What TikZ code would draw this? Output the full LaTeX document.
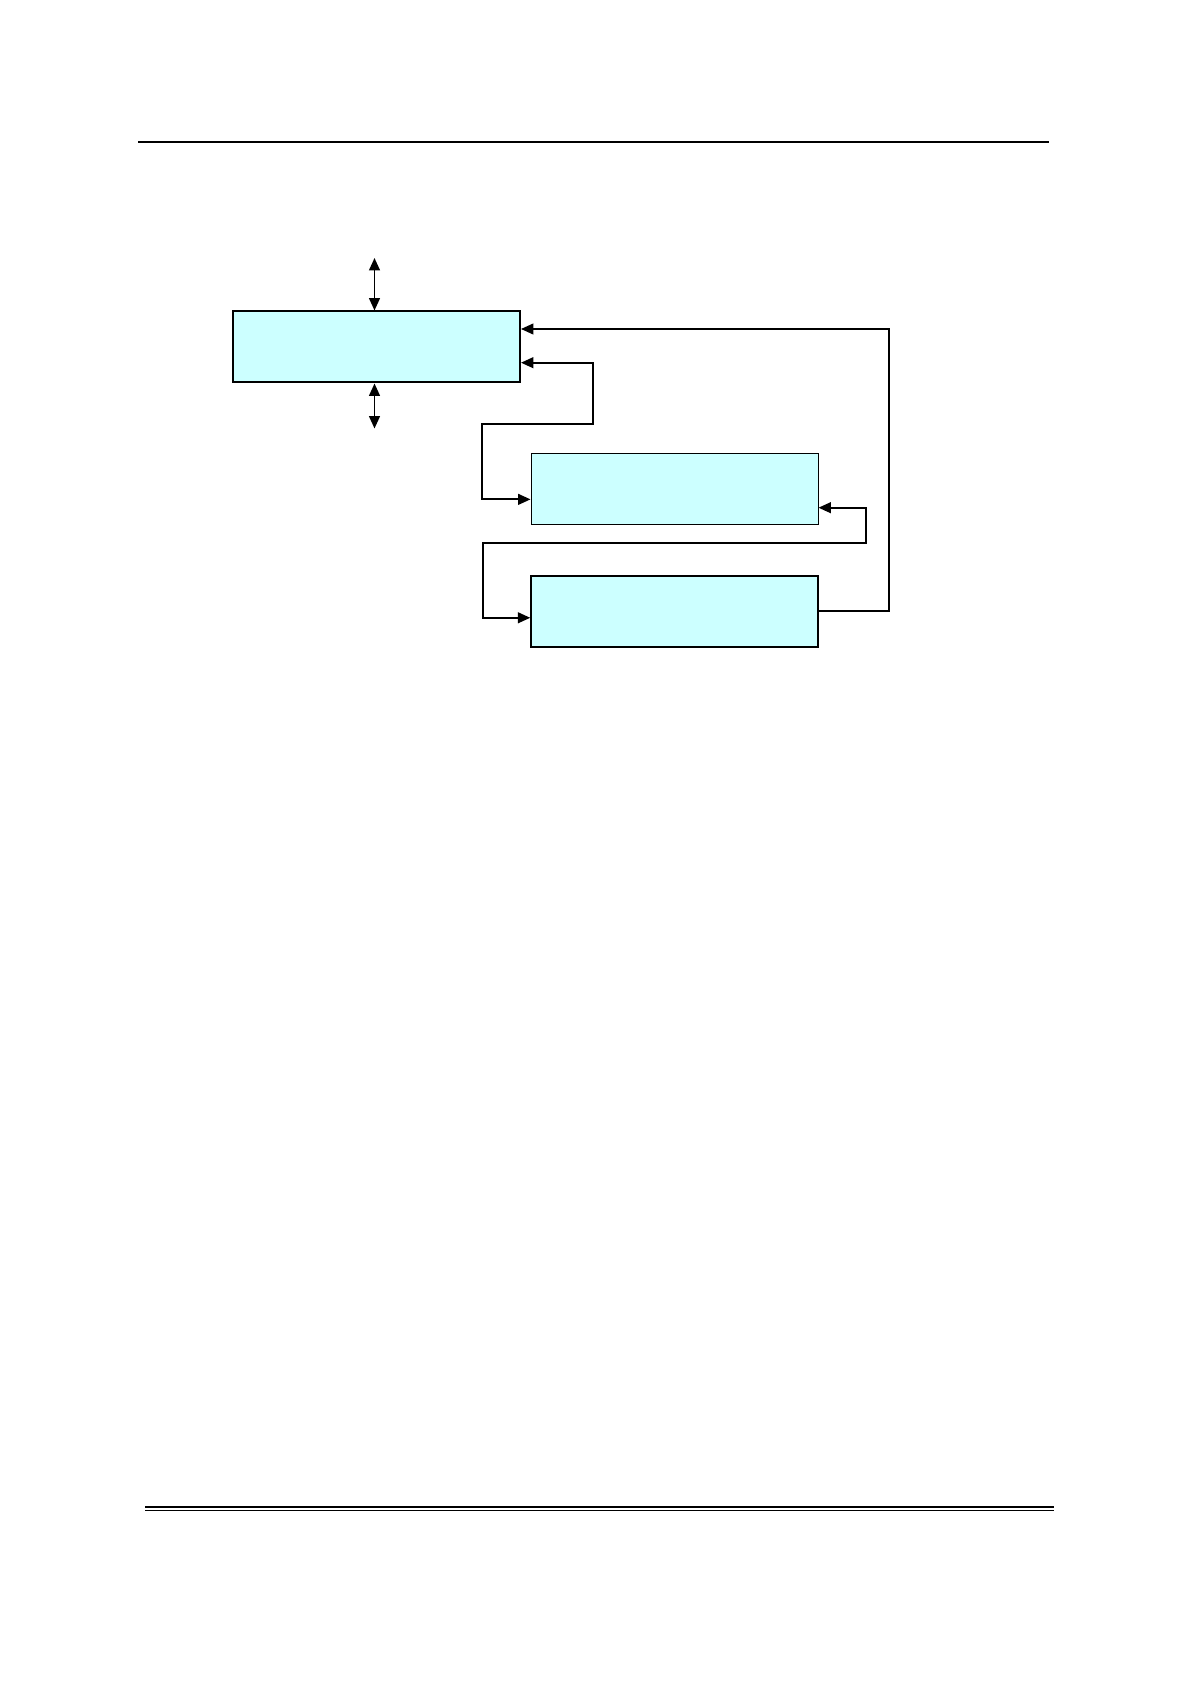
\documentclass[tikz,border=0pt]{standalone}
\usetikzlibrary{arrows.meta, positioning, calc}
\definecolor{boxcyan}{RGB}{204,255,255}

\begin{document}
\begin{tikzpicture}[
    x=0.5pt, y=-0.5pt,
    >={Triangle[length=6.2pt, width=5.4pt]},
    blk/.style={draw, fill=boxcyan, minimum width=143.5pt,
                minimum height=35.5pt, inner sep=0pt, anchor=north west},
    wire/.style={line width=0.9pt},
    rule/.style={line width=0.7pt}
  ]
  \useasboundingbox (0,0) rectangle (1190,1684);
  \draw[rule] (138,142) -- (1049,142);
  \draw[rule, line width=0.65pt] (145,1507) -- (1054,1507);
  \draw[rule, line width=0.9pt] (145,1510.5) -- (1054,1510.5);

  \node[blk, line width=1pt] (mainblk) at (232,310.5) {};
  \node[blk, line width=0.5pt] (midblk) at (530.5,453) {};
  \node[blk, line width=0.75pt, below=25pt of midblk] (lowblk) {};

  \coordinate (busup) at (374.5,258);
  \coordinate (busdn) at (374.5,428.5);
  \coordinate (ta) at (592.7,362.7);
  \coordinate (tb) at (481.7,423.7);
  \coordinate (tc) at (865.7,507.7);
  \coordinate (td) at (482.7,543);
  \coordinate (rr) at (889,329);
  \coordinate (midin) at ($(midblk.north west)!0.644!(midblk.south west)$);
  \coordinate (lowin) at ($(lowblk.north west)!0.59!(lowblk.south west)$);

  \draw[<->, wire] (busup) -- (busup |- mainblk.north);
  \draw[<->, wire] (mainblk.south -| busdn) -- (busdn);
  \draw[->, wire] (lowblk.east) -| (rr) -- (rr -| mainblk.east);
  \draw[<->, wire] (mainblk.east |- ta) -- (ta) |- (tb) |- (midin);
  \draw[<->, wire] (midblk.east |- tc) -- (tc) |- (td) |- (lowin);
\end{tikzpicture}
\end{document}
